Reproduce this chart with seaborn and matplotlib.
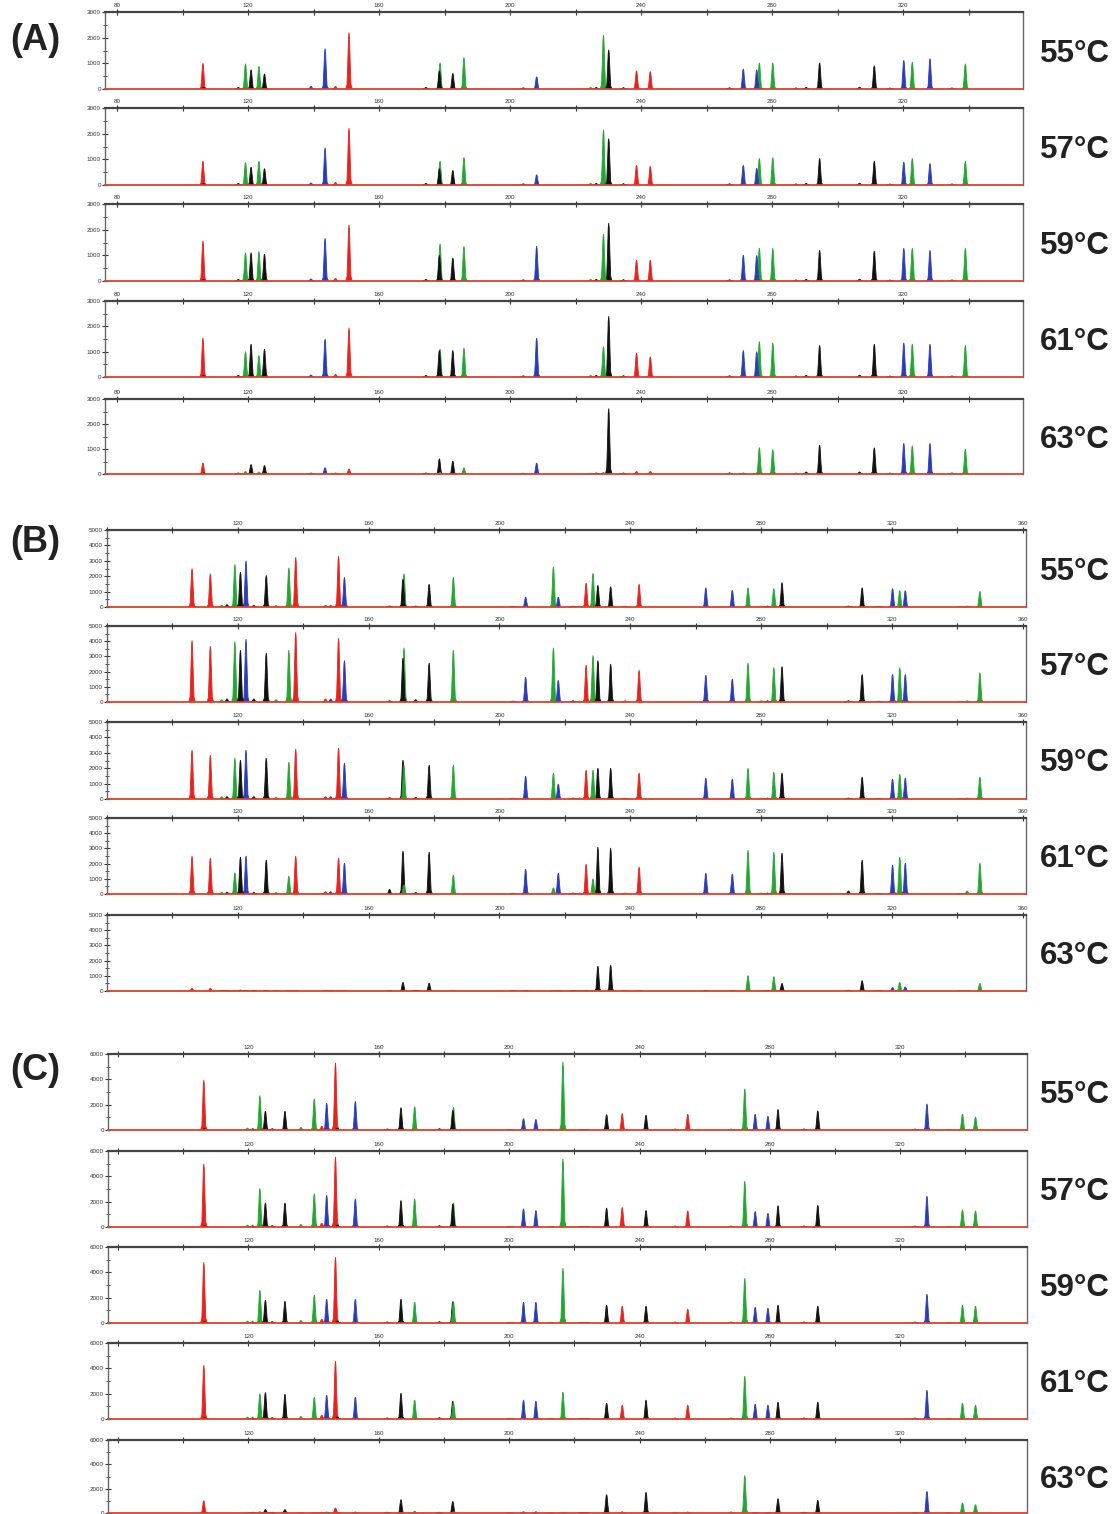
import numpy as np
import pandas as pd
import matplotlib
matplotlib.use("Agg")
import matplotlib.pyplot as plt
import seaborn as sns

# ---------------- data ----------------
temps = ["55°C", "57°C", "59°C", "61°C", "63°C"]
dye_colors = {"R": "#e8231d", "G": "#22a832", "B": "#2a3db8", "K": "#111111"}

# Group A
A_pos = [106.2, 106.4, 117.0, 119.2, 120.9, 123.3, 125.0, 139.2, 143.5, 146.7, 150.8, 174.3, 178.4, 178.6,
         182.5, 185.9, 204.0, 208.1, 224.6, 226.3, 228.5, 230.1, 234.6, 238.6, 242.8, 267.0, 271.2, 275.3,
         276.1, 280.2, 287.3, 290.4, 294.5, 306.7, 311.2, 316.0, 320.2, 322.8, 328.2, 334.9, 339.0]
A_dye = ["R", "K", "K", "G", "K", "G", "K", "B", "B", "R", "R", "K", "K", "G",
         "K", "G", "B", "B", "G", "K", "G", "K", "K", "R", "R", "B", "B", "B",
         "G", "G", "G", "K", "K", "K", "K", "B", "B", "G", "B", "G", "G"]
A_h55 = [1000, 60, 60, 980, 750, 890, 590, 100, 1570, 100, 2200, 60, 710, 1020, 610, 1230, 50, 480, 60, 60,
         2100, 1530, 50, 710, 680, 50, 780, 750, 1020, 1020, 50, 60, 1020, 70, 910, 40, 1120, 1050, 1190, 50, 980]
A_h57 = [930, 60, 60, 880, 700, 930, 640, 80, 1450, 100, 2220, 60, 640, 930, 570, 1080, 50, 400, 60, 60,
         2150, 1810, 50, 770, 730, 50, 770, 660, 1040, 1070, 50, 60, 1040, 70, 930, 40, 900, 1040, 840, 50, 930]
A_h59 = [1560, 60, 60, 1100, 1100, 1150, 1050, 80, 1670, 100, 2180, 60, 1000, 1450, 900, 1350, 50, 1360, 60, 60,
         1830, 2260, 50, 820, 820, 50, 1010, 1000, 1280, 1280, 50, 60, 1200, 70, 1170, 40, 1280, 1280, 1200, 50, 1280]
A_h61 = [1540, 60, 60, 1000, 1300, 850, 1100, 80, 1500, 100, 1940, 60, 1050, 1100, 1050, 1150, 50, 1540, 60, 60,
         1200, 2400, 50, 950, 800, 50, 1050, 1000, 1400, 1350, 50, 60, 1250, 70, 1300, 40, 1350, 1300, 1300, 50, 1250]
A_h63 = [440, 40, 40, 100, 380, 80, 340, 40, 250, 40, 200, 40, 610, 60, 520, 250, 30, 440, 30, 40,
         60, 2620, 40, 100, 100, 50, 40, 40, 1060, 980, 40, 80, 1160, 80, 1050, 40, 1230, 1130, 1230, 50, 1000]

# Group B
B_pos = [106.0, 111.6, 115.1, 116.7, 119.1, 120.8, 122.5, 124.9, 128.7, 131.7, 135.6, 137.7, 146.8, 148.4,
         150.8, 152.6, 166.4, 170.5, 170.8, 174.4, 178.5, 185.9, 204.2, 208.0, 216.5, 218.0, 222.5, 224.5,
         226.5, 228.6, 230.1, 234.0, 238.5, 242.7, 263.1, 271.2, 276.0, 280.0, 282.0, 283.9, 286.4, 306.7,
         310.9, 316.0, 320.2, 322.4, 324.1, 340.8, 343.0, 346.9]
B_dye = ["R", "R", "G", "K", "G", "K", "B", "K", "K", "G", "G", "R", "R", "B",
         "R", "B", "K", "K", "G", "K", "K", "G", "B", "B", "G", "B", "K", "G",
         "R", "G", "K", "K", "R", "R", "B", "B", "G", "G", "K", "G", "K", "K",
         "K", "B", "B", "G", "B", "G", "G", "G"]
B_h55 = [2500, 2160, 120, 150, 2770, 2270, 3000, 100, 2050, 100, 2550, 3230, 100, 100, 3300, 1930, 60, 1820,
         2160, 60, 1480, 1930, 40, 640, 2610, 640, 50, 50, 1550, 2200, 1410, 1320, 60, 1480, 1250, 1090, 1250,
         60, 60, 1200, 1590, 60, 1250, 40, 1200, 1070, 1070, 40, 60, 1020]
B_h57 = [4050, 3680, 150, 200, 3980, 3410, 4140, 200, 3230, 150, 3410, 4590, 200, 200, 4200, 2730, 80, 2890,
         3570, 150, 2570, 3410, 60, 1640, 3570, 1430, 80, 60, 2430, 3070, 2730, 2500, 80, 2090, 1770, 1520, 2570,
         80, 80, 2270, 2340, 80, 1820, 50, 1820, 2270, 1820, 50, 80, 1930]
B_h59 = [3180, 2860, 150, 150, 2660, 2530, 3180, 150, 2660, 120, 2400, 3250, 150, 150, 3310, 2340, 80, 2530,
         2200, 100, 2210, 2210, 50, 1490, 1690, 970, 60, 60, 1880, 1880, 2010, 2010, 60, 1690, 1360, 1300, 2010,
         60, 60, 1750, 1690, 60, 1430, 40, 1300, 1620, 1360, 40, 60, 1430]
B_h61 = [2500, 2370, 120, 120, 1400, 2430, 2500, 100, 2240, 100, 1180, 2500, 150, 150, 2370, 2040, 300, 2830,
         600, 100, 2760, 1250, 50, 1640, 400, 1380, 60, 60, 1970, 1000, 3090, 3030, 60, 1780, 1380, 1320, 2890,
         60, 60, 2760, 2700, 200, 2240, 40, 1910, 2430, 2040, 40, 200, 2040]
B_h63 = [180, 180, 40, 40, 40, 60, 40, 40, 40, 30, 30, 40, 30, 30, 30, 40, 40, 570, 50, 40, 520, 50, 30, 40,
         30, 40, 30, 30, 50, 40, 1640, 1700, 30, 40, 30, 30, 1020, 40, 40, 950, 500, 50, 680, 30, 230, 570, 270,
         30, 40, 500]

# Group C
C_pos = [106.3, 106.5, 119.7, 121.3, 123.5, 125.2, 127.3, 131.2, 136.1, 140.2, 142.5, 144.0, 146.7, 147.3,
         152.8, 162.6, 166.8, 171.0, 178.6, 182.7, 182.9, 200.2, 204.4, 208.2, 212.7, 216.5, 222.2, 223.7,
         229.9, 234.7, 242.0, 250.9, 254.8, 268.1, 272.3, 275.5, 279.4, 282.5, 290.5, 294.7, 324.5, 328.2,
         335.0, 339.1, 343.1]
C_dye = ["R", "K", "G", "K", "G", "K", "K", "K", "G", "G", "R", "B", "R", "K",
         "B", "K", "K", "G", "K", "K", "G", "B", "B", "B", "G", "G", "K", "K",
         "K", "R", "K", "R", "R", "G", "G", "B", "B", "K", "K", "K", "B", "B",
         "G", "G", "G"]
C_h55 = [3940, 100, 150, 100, 2720, 1490, 100, 1490, 200, 2470, 300, 2120, 5300, 150, 2260, 80, 1770, 1850,
         100, 1550, 1800, 50, 900, 840, 50, 5380, 50, 50, 1220, 1300, 1170, 80, 1250, 80, 3260, 1250, 1090,
         1630, 80, 1520, 80, 2060, 50, 1250, 1030]
C_h57 = [4990, 100, 150, 100, 3050, 1910, 100, 1910, 200, 2640, 300, 2510, 5530, 150, 2230, 80, 2100, 2230,
         100, 1830, 1900, 50, 1440, 1310, 50, 5370, 50, 50, 1500, 1550, 1310, 80, 1280, 80, 3630, 1230, 1090,
         1690, 80, 1720, 80, 2450, 50, 1360, 1280]
C_h59 = [4800, 100, 150, 100, 2600, 1810, 100, 1730, 200, 2200, 300, 1890, 5200, 150, 1890, 80, 1890, 1650,
         100, 1700, 1700, 50, 1650, 1650, 50, 4330, 50, 50, 1420, 1340, 1340, 80, 1100, 80, 3540, 1260, 1180,
         1420, 80, 1340, 80, 2280, 50, 1420, 1340]
C_h61 = [4250, 100, 150, 100, 2000, 2100, 100, 1970, 200, 1730, 300, 1890, 4570, 150, 1730, 80, 2050, 1500,
         100, 1420, 1300, 50, 1500, 1420, 50, 2130, 50, 50, 1260, 1100, 1500, 80, 1100, 80, 3390, 1180, 1100,
         1340, 80, 1340, 80, 2280, 50, 1260, 1100]
C_h63 = [1020, 60, 60, 60, 100, 280, 60, 280, 50, 50, 60, 80, 410, 60, 80, 60, 1100, 150, 60, 960, 100, 40,
         100, 100, 40, 60, 40, 40, 1520, 100, 1710, 60, 80, 100, 3090, 50, 50, 1180, 60, 1050, 50, 1790, 50,
         830, 690]

groups = [
    dict(tag="(A)", pos=A_pos, dye=A_dye, heights=[A_h55, A_h57, A_h59, A_h61, A_h63],
         xlim=(76.3, 356.6), ylim=(0, 3000), yticks=[0, 1000, 2000, 3000], yminor=500,
         xticklabels=[80, 120, 160, 200, 240, 280, 320]),
    dict(tag="(B)", pos=B_pos, dye=B_dye, heights=[B_h55, B_h57, B_h59, B_h61, B_h63],
         xlim=(80.3, 361.0), ylim=(0, 5000), yticks=[0, 1000, 2000, 3000, 4000, 5000], yminor=500,
         xticklabels=[120, 160, 200, 240, 280, 320, 360]),
    dict(tag="(C)", pos=C_pos, dye=C_dye, heights=[C_h55, C_h57, C_h59, C_h61, C_h63],
         xlim=(76.9, 358.9), ylim=(0, 6000), yticks=[0, 2000, 4000, 6000], yminor=1000,
         xticklabels=[120, 160, 200, 240, 280, 320]),
]
for g in groups:
    for h in g["heights"]:
        assert len(h) == len(g["pos"]) == len(g["dye"]), (g["tag"], len(h), len(g["pos"]), len(g["dye"]))

# ---------------- layout (pixels) ----------------
W, H = 1119, 1514
panel_px = [
    dict(left=105, right=1023, tops=[12, 108, 204, 301, 399], bots=[89, 185, 281, 377, 474], tagy=40),
    dict(left=107, right=1026, tops=[530, 626, 722, 818, 915], bots=[607, 702, 799, 894, 991], tagy=542),
    dict(left=108, right=1027, tops=[1054, 1151, 1247, 1343, 1440], bots=[1130, 1227, 1323, 1419, 1513], tagy=1070),
]

# peak outline template (style only)
shape_dx = np.array([-1.0, -0.6, -0.38, -0.14, 0.0, 0.14, 0.38, 0.6, 1.0])
shape_rel = np.array([0.0, 0.08, 0.45, 0.92, 1.0, 0.92, 0.45, 0.08, 0.0])

sns.set_theme(style="white")
plt.rcParams["font.family"] = ["Liberation Sans", "DejaVu Sans"]

fig = plt.figure(figsize=(W / 100, H / 100), dpi=100)
fig.patch.set_facecolor("white")

for g, L in zip(groups, panel_px):
    fig.text(10 / W, 1 - L["tagy"] / H, g["tag"], fontsize=26, fontweight="bold",
             color="#222222", ha="left", va="center")
    for ti, (temp, hts) in enumerate(zip(temps, g["heights"])):
        top, bot = L["tops"][ti], L["bots"][ti]
        ax = fig.add_axes([L["left"] / W, 1 - bot / H, (L["right"] - L["left"]) / W, (bot - top) / H])
        df = pd.DataFrame({"pos": g["pos"], "dye": g["dye"], "h": hts}).sort_values("h", ascending=False)
        for _, r in df.iterrows():
            ax.fill(r["pos"] + shape_dx, r["h"] * shape_rel, color=dye_colors[r["dye"]],
                    lw=0.6, edgecolor=dye_colors[r["dye"]], zorder=2)
        ax.set_xlim(*g["xlim"])
        ax.set_ylim(*g["ylim"])
        ax.set_facecolor("white")
        # x ticks on top: every 20 bp, labels every 40
        xt = np.arange(80, 361, 20)
        xt = xt[(xt >= g["xlim"][0] - 0.5) & (xt <= g["xlim"][1] + 0.5)]
        ax.set_xticks(xt)
        ax.set_xticklabels([str(v) if v in g["xticklabels"] else "" for v in xt])
        ax.xaxis.tick_top()
        ax.tick_params(axis="x", which="major", top=True, bottom=False, labeltop=True, labelbottom=False,
                       direction="inout", length=4, width=0.8, labelsize=4.5, pad=1, colors="#333333")
        ax.set_yticks(g["yticks"])
        ax.set_yticklabels([str(v) for v in g["yticks"]])
        ax.set_yticks(np.arange(g["ylim"][0], g["ylim"][1] + 1, g["yminor"]), minor=True)
        ax.tick_params(axis="y", which="major", left=True, direction="inout", length=4, width=0.8,
                       labelsize=4.5, pad=1, colors="#333333")
        ax.tick_params(axis="y", which="minor", left=True, direction="inout", length=3, width=0.6,
                       colors="#333333")
        for s in ["left", "right"]:
            ax.spines[s].set_color("#666666")
            ax.spines[s].set_linewidth(1.0)
        ax.spines["top"].set_color("#444444")
        ax.spines["top"].set_linewidth(1.6)
        ax.spines["bottom"].set_color("#e0402a")
        ax.spines["bottom"].set_linewidth(1.3)
        ax.set_xlabel("")
        ax.set_ylabel("")
        fig.text(1040 / W, 1 - ((top + bot) / 2 + 3) / H, temp, fontsize=22.5, fontweight="bold",
                 color="#222222", ha="left", va="center")

fig.savefig("out.png", dpi=100, facecolor="white")
